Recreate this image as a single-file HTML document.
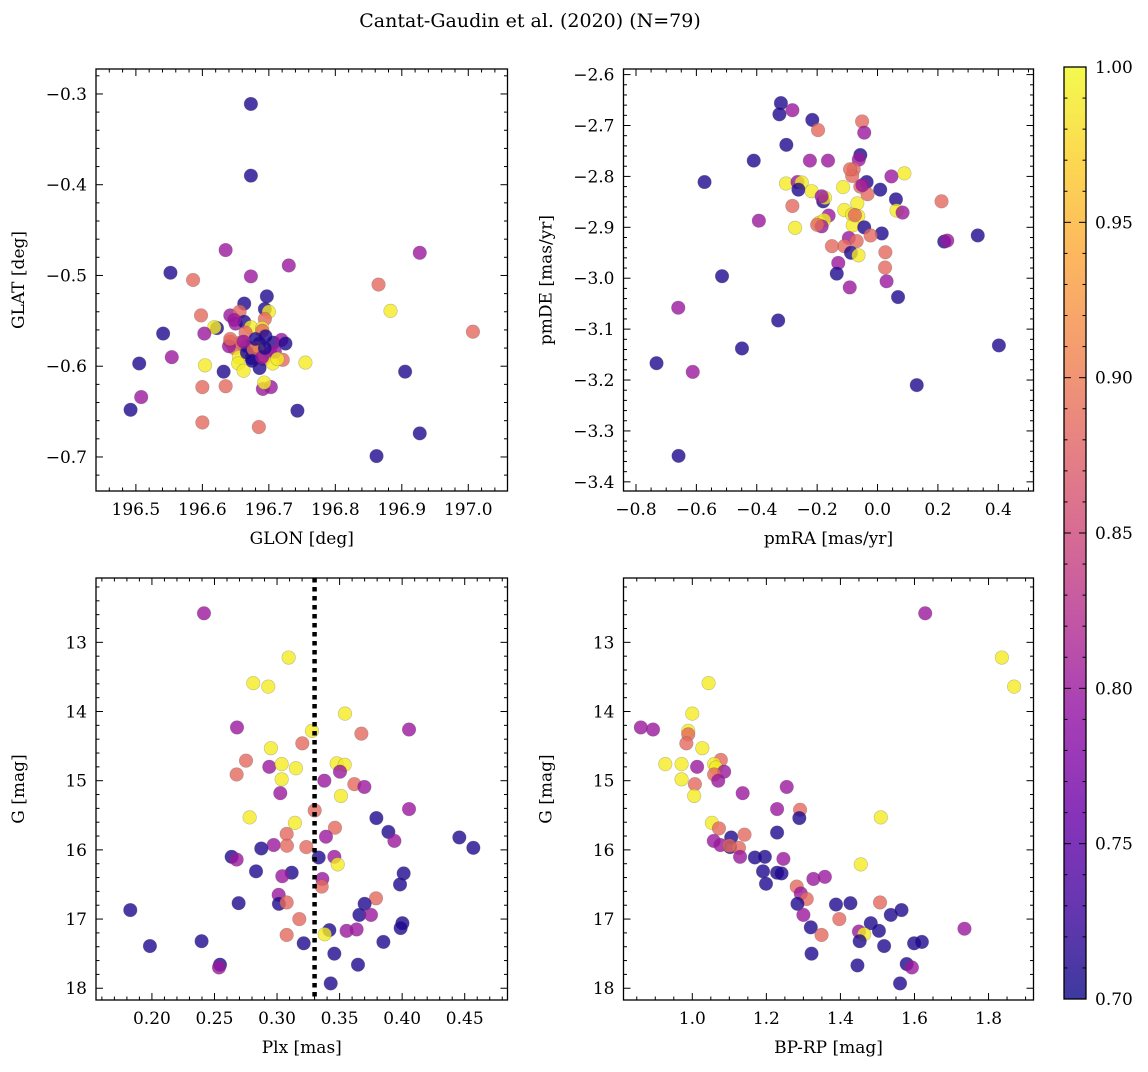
<!DOCTYPE html>
<html><head><meta charset="utf-8"><style>
body{margin:0;background:#fff;}
svg text{font-family:"DejaVu Serif","Liberation Serif",serif;fill:#000;}
</style></head><body>
<svg id="fig" width="1148" height="1067" xmlns="http://www.w3.org/2000/svg">
<text x="530" y="27" text-anchor="middle" font-size="19">Cantat-Gaudin et al. (2020) (N=79)</text>
</svg>
<script>
// Panel 1: GLON vs GLAT
const glon1=[196.673,196.673,196.635,196.552,196.586,196.673,196.730,196.927,196.865,196.883,197.007,196.697,196.663,196.694,196.700,196.598,196.642,196.656,196.650,196.663,196.694,196.622,196.618,196.673,196.690,196.541,196.603,196.665,196.642,196.648,196.667,196.686,196.707,196.719,196.725,196.682,196.685,196.702,196.674,196.692,196.721,196.655,196.654,196.706,196.755,196.604,196.505,196.554,196.662,196.686,196.632,196.905,196.600,196.635,196.691,196.703,196.693,196.508,196.492,196.743,196.600,196.685,196.927,196.862,196.657,196.640,196.667,196.677,196.709,196.648,196.690,196.680,196.662,196.695,196.642,196.675,196.690,196.713,196.694];
const glat1=[-0.311,-0.390,-0.472,-0.497,-0.505,-0.501,-0.489,-0.475,-0.510,-0.539,-0.562,-0.523,-0.531,-0.537,-0.540,-0.544,-0.544,-0.540,-0.553,-0.551,-0.548,-0.558,-0.557,-0.557,-0.558,-0.564,-0.564,-0.563,-0.573,-0.580,-0.578,-0.575,-0.574,-0.571,-0.575,-0.580,-0.583,-0.585,-0.591,-0.592,-0.593,-0.590,-0.597,-0.597,-0.596,-0.599,-0.597,-0.590,-0.605,-0.602,-0.606,-0.606,-0.623,-0.622,-0.625,-0.623,-0.618,-0.634,-0.648,-0.649,-0.662,-0.667,-0.674,-0.699,-0.574,-0.578,-0.585,-0.581,-0.584,-0.549,-0.561,-0.570,-0.573,-0.567,-0.570,-0.594,-0.590,-0.592,-0.580];
const col1=[0.71,0.71,0.80,0.71,0.885,0.80,0.80,0.80,0.885,0.99,0.885,0.71,0.71,0.71,0.99,0.885,0.80,0.885,0.80,0.71,0.885,0.71,0.99,0.99,0.99,0.71,0.80,0.885,0.885,0.885,0.71,0.71,0.71,0.80,0.71,0.99,0.99,0.80,0.71,0.885,0.885,0.99,0.99,0.99,0.99,0.99,0.71,0.80,0.99,0.71,0.71,0.71,0.885,0.885,0.80,0.80,0.99,0.80,0.71,0.71,0.885,0.885,0.71,0.71,0.885,0.80,0.71,0.885,0.80,0.80,0.885,0.71,0.80,0.71,0.885,0.71,0.80,0.99,0.71];
// Panel 2: pmRA vs pmDE
const pmra2=[-0.320,-0.325,-0.282,-0.216,-0.197,-0.051,-0.044,-0.302,-0.410,-0.224,-0.164,-0.057,-0.062,-0.573,-0.079,-0.084,0.046,0.089,-0.303,-0.265,-0.251,-0.262,-0.218,-0.114,-0.036,-0.057,-0.033,0.009,0.061,-0.180,-0.174,-0.282,-0.067,-0.110,-0.084,-0.064,-0.162,0.063,0.083,0.212,-0.393,-0.193,-0.177,-0.185,-0.273,-0.082,-0.044,0.014,-0.023,0.332,0.221,0.231,-0.095,-0.069,-0.110,-0.151,-0.088,-0.063,0.026,0.025,-0.130,-0.135,0.030,-0.092,-0.515,0.068,-0.660,-0.329,-0.449,0.402,-0.732,-0.612,0.130,-0.659,-0.091,-0.185,-0.075,-0.200,-0.050];
const pmde2=[-2.656,-2.678,-2.670,-2.689,-2.709,-2.692,-2.714,-2.738,-2.769,-2.769,-2.769,-2.758,-2.767,-2.811,-2.786,-2.799,-2.800,-2.794,-2.814,-2.811,-2.812,-2.826,-2.829,-2.821,-2.811,-2.820,-2.835,-2.826,-2.845,-2.849,-2.842,-2.858,-2.853,-2.866,-2.875,-2.878,-2.877,-2.867,-2.871,-2.849,-2.887,-2.891,-2.886,-2.898,-2.901,-2.896,-2.900,-2.912,-2.916,-2.916,-2.928,-2.926,-2.921,-2.927,-2.937,-2.937,-2.950,-2.955,-2.949,-2.979,-2.970,-2.991,-3.006,-3.018,-2.996,-3.037,-3.058,-3.083,-3.138,-3.132,-3.167,-3.184,-3.210,-3.349,-2.786,-2.839,-2.876,-2.895,-2.817];
const col2=[0.71,0.71,0.80,0.71,0.885,0.885,0.80,0.71,0.71,0.80,0.80,0.71,0.80,0.71,0.885,0.885,0.80,0.99,0.99,0.80,0.99,0.71,0.99,0.99,0.71,0.885,0.885,0.71,0.71,0.71,0.99,0.885,0.99,0.99,0.99,0.99,0.80,0.99,0.80,0.885,0.80,0.99,0.99,0.80,0.99,0.99,0.71,0.71,0.885,0.71,0.71,0.80,0.80,0.885,0.885,0.885,0.71,0.99,0.885,0.885,0.80,0.71,0.80,0.80,0.71,0.71,0.80,0.71,0.71,0.71,0.71,0.80,0.71,0.71,0.885,0.80,0.885,0.885,0.80];
// Panel 3: Plx vs G
const plx3=[0.2416,0.3093,0.2810,0.2930,0.3543,0.2680,0.4055,0.3279,0.3674,0.3202,0.2951,0.2752,0.2677,0.2938,0.3037,0.3151,0.3477,0.3541,0.3503,0.3037,0.3378,0.3618,0.3698,0.3026,0.3511,0.4055,0.3301,0.3794,0.2781,0.3143,0.3463,0.3890,0.3077,0.3391,0.3938,0.4457,0.4569,0.2973,0.3079,0.3234,0.2874,0.2637,0.2677,0.3333,0.3458,0.3485,0.2832,0.3117,0.3042,0.4012,0.3362,0.3357,0.3983,0.3013,0.3015,0.3077,0.2693,0.3791,0.3700,0.3658,0.3751,0.3178,0.1827,0.4002,0.3988,0.3418,0.3381,0.3556,0.3636,0.3077,0.2397,0.3213,0.3850,0.1984,0.3458,0.2544,0.2536,0.3647,0.3429];
const g3=[12.58,13.22,13.59,13.64,14.03,14.23,14.26,14.28,14.32,14.46,14.53,14.71,14.91,14.80,14.76,14.82,14.75,14.77,14.87,14.98,15.00,15.05,15.09,15.18,15.22,15.41,15.43,15.54,15.53,15.61,15.68,15.74,15.77,15.81,15.87,15.82,15.97,15.93,15.94,15.96,15.98,16.10,16.14,16.11,16.10,16.21,16.31,16.33,16.38,16.34,16.42,16.53,16.50,16.65,16.78,16.76,16.77,16.70,16.78,16.94,16.94,17.00,16.87,17.06,17.13,17.16,17.22,17.17,17.15,17.23,17.32,17.35,17.33,17.39,17.50,17.66,17.70,17.66,17.93];
const col3=[0.80,0.99,0.99,0.99,0.99,0.80,0.80,0.99,0.885,0.885,0.99,0.885,0.885,0.80,0.99,0.99,0.99,0.99,0.80,0.99,0.80,0.885,0.80,0.80,0.99,0.80,0.885,0.71,0.99,0.99,0.885,0.71,0.885,0.80,0.80,0.71,0.71,0.80,0.885,0.885,0.71,0.71,0.80,0.71,0.80,0.99,0.71,0.71,0.80,0.71,0.80,0.885,0.71,0.80,0.71,0.885,0.71,0.885,0.71,0.71,0.80,0.885,0.71,0.71,0.71,0.71,0.99,0.80,0.80,0.885,0.71,0.71,0.71,0.71,0.71,0.71,0.80,0.71,0.71];
// Panel 4: BP-RP vs G
const bprp4=[1.629,1.836,1.869,1.044,1.000,0.861,0.894,0.989,0.989,0.984,1.027,0.927,0.971,1.013,1.077,1.059,1.064,1.086,1.059,1.070,0.971,1.007,1.005,1.136,1.255,1.229,1.291,1.289,1.509,1.053,1.072,1.229,1.105,1.141,1.058,1.076,1.102,1.126,1.100,1.129,1.169,1.196,1.246,1.455,1.191,1.229,1.241,1.199,1.327,1.358,1.282,1.293,1.309,1.284,1.388,1.427,1.507,1.300,1.536,1.565,1.397,1.320,1.482,1.504,1.450,1.349,1.464,1.452,1.518,1.599,1.620,1.735,1.322,1.446,1.579,1.593,1.561];
const g4=[12.58,13.22,13.64,13.59,14.03,14.23,14.26,14.28,14.33,14.46,14.53,14.76,14.76,14.80,14.70,14.76,14.81,14.87,14.91,15.00,14.98,15.05,15.22,15.18,15.09,15.41,15.42,15.54,15.53,15.61,15.69,15.75,15.82,15.78,15.87,15.93,15.96,15.97,15.94,16.10,16.11,16.10,16.13,16.21,16.31,16.33,16.34,16.49,16.42,16.39,16.53,16.63,16.71,16.78,16.79,16.77,16.76,16.94,16.94,16.87,17.00,17.12,17.06,17.17,17.18,17.23,17.22,17.32,17.39,17.35,17.33,17.14,17.50,17.67,17.65,17.70,17.93];
const col4=[0.80,0.99,0.99,0.99,0.99,0.80,0.80,0.99,0.885,0.885,0.99,0.99,0.99,0.80,0.885,0.99,0.99,0.80,0.885,0.80,0.99,0.885,0.99,0.80,0.80,0.80,0.885,0.71,0.99,0.99,0.885,0.71,0.71,0.885,0.80,0.80,0.71,0.885,0.885,0.80,0.71,0.71,0.80,0.99,0.71,0.71,0.71,0.71,0.80,0.80,0.885,0.80,0.885,0.71,0.71,0.71,0.885,0.80,0.71,0.71,0.885,0.71,0.71,0.71,0.80,0.885,0.99,0.71,0.71,0.71,0.71,0.80,0.71,0.71,0.71,0.80,0.71];
const cbarTicks=[0.70,0.75,0.80,0.85,0.90,0.95,1.00];
const plxLine=0.330;

const NS='http://www.w3.org/2000/svg';
const svg=document.getElementById('fig');
function mk(tag,attrs,parent){const e=document.createElementNS(NS,tag);for(const k in attrs)e.setAttribute(k,attrs[k]);(parent||svg).appendChild(e);return e;}
const stops=[[13,8,135],[65,4,157],[106,0,168],[143,13,164],[177,42,144],[204,71,120],[225,100,98],[242,132,75],[252,166,54],[252,206,37],[240,249,33]];
function plasma(t){t=Math.max(0,Math.min(1,t));const f=t*10,i=Math.min(9,Math.floor(f)),u=f-i;const a=stops[i],b=stops[i+1];return 'rgb('+a.map((v,k)=>Math.round(v+(b[k]-v)*u)).join(',')+')';}
function cmap(v){return plasma((v-0.70)/0.30);}
function fmt(v,d){const r=Math.abs(v)<1e-9?0:v;return (r<0?'\u2212':'')+Math.abs(r).toFixed(d);}
const FS=17;

function panel(o){
  const g=mk('g',{});
  
  
  const sx=v=>o.L+(v-o.x0)/(o.x1-o.x0)*(o.R-o.L);
  const sy=v=>o.B-(v-o.y0)/(o.y1-o.y0)*(o.B-o.T);
  const pg=mk('g',{},g);
  
  
  for(let i=0;i<o.xs.length;i++){
    const c=mk('circle',{cx:sx(o.xs[i]),cy:sy(o.ys[i]),r:6.8,fill:cmap(o.cs[i]),'fill-opacity':0.8,stroke:'#555','stroke-opacity':0.35,'stroke-width':0.6},pg);
    
    
  }
  if(o.vline!==undefined){
    const l=mk('line',{x1:sx(o.vline),x2:sx(o.vline),y1:o.T,y2:o.B,stroke:'#000','stroke-width':4.5,'stroke-dasharray':'4.5 4.5'},g);
    
    
  }
  const fr=mk('rect',{x:o.L,y:o.T,width:o.R-o.L,height:o.B-o.T,fill:'none',stroke:'#000','stroke-width':1.3},g);
  
  
  const eps=1e-9;
  const xa=Math.min(o.x0,o.x1),xb=Math.max(o.x0,o.x1);
  for(let k=Math.ceil(xa/o.xmin-eps);k*o.xmin<=xb+eps;k++){
    const v=k*o.xmin;const X=sx(v);if(X<o.L-0.5||X>o.R+0.5)continue;
    const major=Math.abs(v/o.xmaj-Math.round(v/o.xmaj))<1e-6;
    const len=major?7:3.5;
    mk('line',{x1:X,x2:X,y1:o.B,y2:o.B-len,stroke:'#000','stroke-width':1},g);
    mk('line',{x1:X,x2:X,y1:o.T,y2:o.T+len,stroke:'#000','stroke-width':1},g);
    if(major){const t=mk('text',{x:X,y:o.B+24,'text-anchor':'middle','font-size':FS},g);t.textContent=fmt(v,o.xd);
      
      }
  }
  const ya=Math.min(o.y0,o.y1),yb=Math.max(o.y0,o.y1);
  for(let k=Math.ceil(ya/o.ymin-eps);k*o.ymin<=yb+eps;k++){
    const v=k*o.ymin;const Y=sy(v);if(Y<o.T-0.5||Y>o.B+0.5)continue;
    const major=Math.abs(v/o.ymaj-Math.round(v/o.ymaj))<1e-6;
    const len=major?7:3.5;
    mk('line',{x1:o.L,x2:o.L+len,y1:Y,y2:Y,stroke:'#000','stroke-width':1},g);
    mk('line',{x1:o.R,x2:o.R-len,y1:Y,y2:Y,stroke:'#000','stroke-width':1},g);
    if(major){const t=mk('text',{x:o.L-9,y:Y+6,'text-anchor':'end','font-size':FS},g);t.textContent=fmt(v,o.yd);
      
      }
  }
  const xl=mk('text',{x:(o.L+o.R)/2,y:o.B+53,'text-anchor':'middle','font-size':FS},g);xl.textContent=o.xlab;
  
  
  const yx=o.L-(o.ylw||70),yy=(o.T+o.B)/2;
  const yl=mk('text',{x:yx,y:yy,'text-anchor':'middle','font-size':FS,transform:'rotate(-90 '+yx+' '+yy+')'},g);yl.textContent=o.ylab;
  
  
}
panel({name:'glon-glat-panel',L:96,R:507.5,T:69,B:491,x0:196.440,x1:197.059,y0:-0.7375,y1:-0.2725,xmaj:0.1,xmin:0.02,ymaj:0.1,ymin:0.02,xd:1,yd:1,xs:glon1,ys:glat1,cs:col1,xlab:'GLON [deg]',ylab:'GLAT [deg]',ylw:72});
panel({name:'pm-panel',L:623.5,R:1033.5,T:69,B:491,x0:-0.8+(623.5-636)/301.9,x1:-0.8+(1033.5-636)/301.9,y0:-3.418,y1:-2.589,xmaj:0.2,xmin:0.05,ymaj:0.1,ymin:0.02,xd:1,yd:1,xs:pmra2,ys:pmde2,cs:col2,xlab:'pmRA [mas/yr]',ylab:'pmDE [mas/yr]',ylw:72});
panel({name:'plx-g-panel',L:96,R:507.5,T:578,B:1000,x0:0.1553,x1:0.4842,y0:18.17,y1:12.07,xmaj:0.05,xmin:0.01,ymaj:1,ymin:0.2,xd:2,yd:0,xs:plx3,ys:g3,cs:col3,xlab:'Plx [mas]',ylab:'G [mag]',ylw:72,vline:plxLine});
panel({name:'cmd-panel',L:623.5,R:1033.5,T:578,B:1000,x0:1.0+(623.5-692.3)/370.3,x1:1.0+(1033.5-692.3)/370.3,y0:18.17,y1:12.07,xmaj:0.2,xmin:0.05,ymaj:1,ymin:0.2,xd:1,yd:0,xs:bprp4,ys:g4,cs:col4,xlab:'BP-RP [mag]',ylab:'G [mag]',ylw:72});

const defs=mk('defs',{});
const lg=mk('linearGradient',{id:'cb',x1:0,y1:1,x2:0,y2:0},defs);
for(let i=0;i<=20;i++){mk('stop',{offset:(i/20),'stop-color':plasma(i/20),'stop-opacity':0.8},lg);}
const cbL=1064,cbR=1086,cbT=67,cbB=999;
const cb=mk('rect',{x:cbL,y:cbT,width:cbR-cbL,height:cbB-cbT,fill:'url(#cb)',stroke:'#000','stroke-width':1.3});


const cy=v=>cbB-(v-0.70)/0.30*(cbB-cbT);
for(let k=0;k<=30;k++){const v=0.70+k*0.01,Y=cy(v),maj=k%5===0;
  mk('line',{x1:cbR,x2:cbR-(maj?7:3.5),y1:Y,y2:Y,stroke:'#000','stroke-width':1});
  mk('line',{x1:cbL,x2:cbL+(maj?7:3.5),y1:Y,y2:Y,stroke:'#000','stroke-width':1});}
cbarTicks.forEach(v=>{const t=mk('text',{x:cbR+9,y:cy(v)+6,'font-size':FS});t.textContent=v.toFixed(2);
  
  });
</script>
</body></html>
